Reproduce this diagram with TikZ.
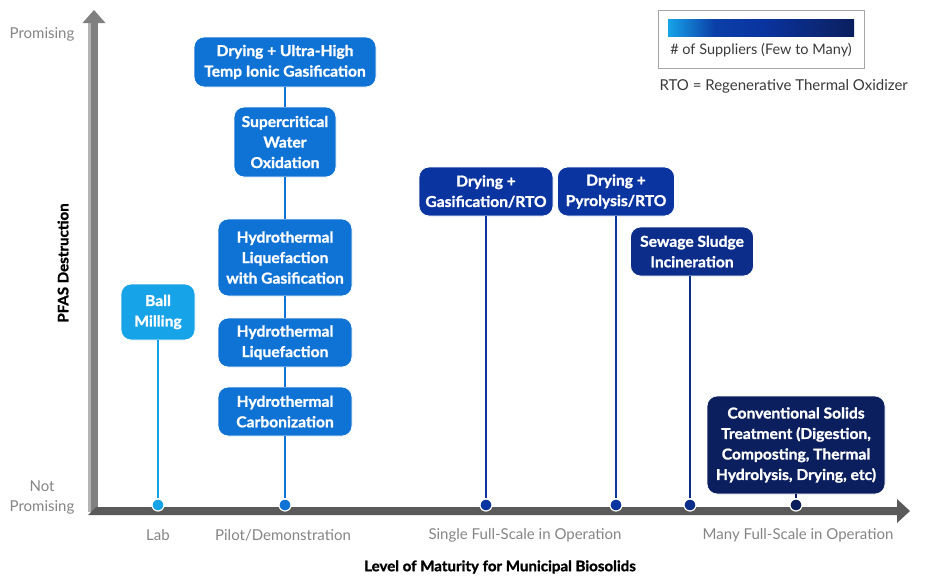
\documentclass[tikz,border=0pt]{standalone}
\usepackage{fontspec}
\setmainfont{Lato}[BoldFont={Lato Bold}]
\newfontfamily\heavyfont{Lato Bold}[FakeBold=1.3, FakeStretch=1.04]
\usetikzlibrary{shapes.geometric}
\definecolor{cLight}{HTML}{17A3E8}
\definecolor{cMed}{HTML}{0F72D5}
\definecolor{cDark}{HTML}{0A34A0}
\definecolor{cSew}{HTML}{0C2E8A}
\definecolor{cNavy}{HTML}{0B1F5E}
\definecolor{axV}{HTML}{808080}
\definecolor{axH}{HTML}{5A5A5A}
\definecolor{lblgrey}{HTML}{858585}
\definecolor{txtdark}{HTML}{3A3A3A}
\tikzset{
  tbox/.style={draw=white, line width=0.8pt, rounded corners=10pt, text=white, font=\fontsize{15}{20.5}\selectfont\heavyfont, align=center, inner sep=0pt},
  conn/.style={line width=1.8pt},
  mdot/.style={circle, draw=white, line width=1.2pt, minimum size=12pt, inner sep=0pt},
  axlbl/.style={text=lblgrey, font=\fontsize{15}{20}\selectfont, align=center},
}
\begin{document}
\begin{tikzpicture}[x=1pt,y=-1pt]
\useasboundingbox (0,0) rectangle (928,576);
\fill[white] (0,0) rectangle (928,576);
% vertical axis
\fill[axV] (90,22) rectangle (98,512);
\fill[axV!60] (88,22) rectangle (91,512);
\fill[axV] (82.5,23) -- (94,10) -- (105.5,23) -- cycle;
% horizontal axis
\fill[axH] (88,515) -- (96,507) -- (898,507) -- (898,515) -- cycle;
\fill[axH] (897,499) -- (910,511) -- (897,523) -- cycle;
% boxes
\node[tbox, fill=cMed, minimum width=182pt, minimum height=50pt] (uhtig) at (285,62) {Drying + Ultra-High\\Temp Ionic Gasification};
\node[tbox, fill=cMed, minimum width=102pt, minimum height=70pt] (scwo) at (285,142) {Supercritical\\Water\\Oxidation};
\node[tbox, fill=cMed, minimum width=134pt, minimum height=77pt] (htlg) at (285,257.5) {Hydrothermal\\Liquefaction\\with Gasification};
\node[tbox, fill=cMed, minimum width=134pt, minimum height=49pt] (htl) at (285,342.5) {Hydrothermal\\Liquefaction};
\node[tbox, fill=cMed, minimum width=134pt, minimum height=49pt] (htc) at (285,411.5) {Hydrothermal\\Carbonization};
\node[tbox, fill=cLight, minimum width=74pt, minimum height=56pt] (ball) at (158,312) {Ball\\Milling};
\node[tbox, fill=cDark, minimum width=134pt, minimum height=49pt] (gas) at (486,191.5) {Drying +\\Gasification/RTO};
\node[tbox, fill=cDark, minimum width=117pt, minimum height=49pt] (pyro) at (616,191.5) {Drying +\\Pyrolysis/RTO};
\node[tbox, fill=cSew, minimum width=123pt, minimum height=49pt] (sew) at (692,251.5) {Sewage Sludge\\Incineration};
\node[tbox, fill=cNavy, minimum width=178pt, minimum height=98pt] (conv) at (796,445) {Conventional Solids\\Treatment (Digestion,\\Composting, Thermal\\Hydrolysis, Drying, etc)};
% dots
\node[mdot, fill=cLight] (dLab) at (158,505) {};
\node[mdot, fill=cMed] (dPilot) at (285,505) {};
\node[mdot, fill=cDark] (dGas) at (486,505) {};
\node[mdot, fill=cDark] (dPyro) at (616,505) {};
\node[mdot, fill=cSew] (dSew) at (690,505) {};
\node[mdot, fill=cNavy] (dConv) at (796,505) {};
% connectors
\draw[conn, cMed] (uhtig) -- (scwo);
\draw[conn, cMed] (scwo) -- (htlg);
\draw[conn, cMed] (htlg) -- (htl);
\draw[conn, cMed] (htl) -- (htc);
\draw[conn, cMed] (htc) -- (dPilot);
\draw[conn, cLight] (ball) -- (dLab);
\draw[conn, cDark] (gas) -- (dGas);
\draw[conn, cDark] (pyro) -- (dPyro);
\draw[conn, cSew] (sew.south -| dSew) -- (dSew);
\draw[conn, cNavy] (conv) -- (dConv);
% axis labels
\node[axlbl] (prom) at (42,34) {Promising};
\node[axlbl] (notprom) at (42,497) {Not\\Promising};
\node[axlbl] (lab) at (158,535) {Lab};
\node[axlbl] (pilot) at (283,535) {Pilot/Demonstration};
\node[axlbl] (single) at (525,535) {Single Full-Scale in Operation};
\node[axlbl] (many) at (798,535) {Many Full-Scale in Operation};
\node[font=\fontsize{14.5}{16}\selectfont\heavyfont, text=black] (xlab) at (500,567) {Level of Maturity for Municipal Biosolids};
\node[font=\fontsize{14.5}{16}\selectfont\heavyfont, text=black, rotate=90] (ylab) at (63,263) {PFAS Destruction};
% legend
\node[draw=axV!70, line width=1pt, minimum width=206pt, minimum height=58pt, inner sep=0pt] (leg) at (761,39) {};
\shade[left color=cLight, right color=cDark, middle color=cDark!90!cLight] (668,19) rectangle (761,36);
\shade[left color=cDark, right color=cNavy] (761,19) rectangle (854,36);
\node[font=\fontsize{14.5}{16}\selectfont, text=txtdark] (legtxt) at (761,50) {\# of Suppliers (Few to Many)};
\node[font=\fontsize{15}{16}\selectfont, text=txtdark, anchor=west] (rto) at (656,86) {RTO = Regenerative Thermal Oxidizer};
\end{tikzpicture}
\end{document}
